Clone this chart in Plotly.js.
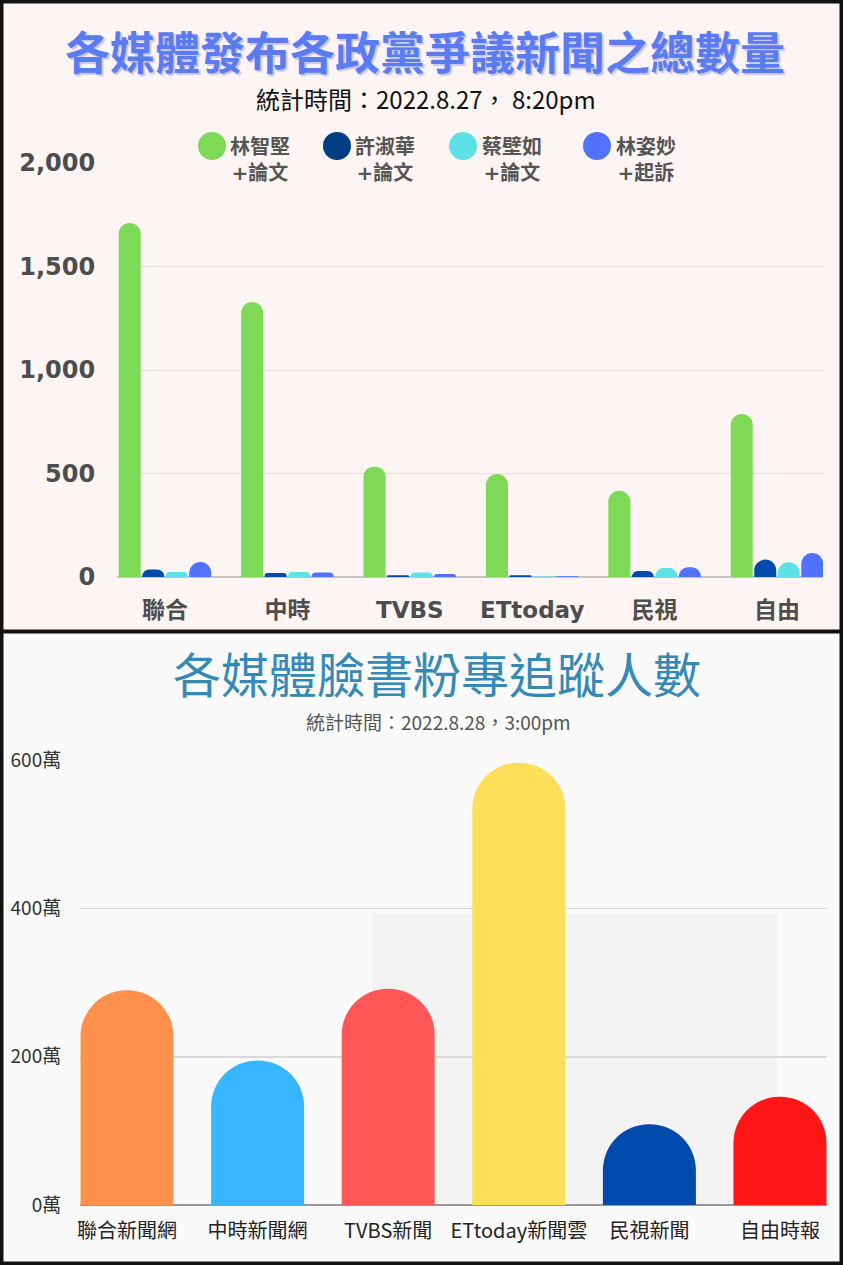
<!DOCTYPE html>
<html><head><meta charset="utf-8">
<script src="https://cdn.plot.ly/plotly-3.0.1.min.js"></script>
<style>html,body{margin:0;padding:0;background:#fff}#chart{width:843px;height:1265px}</style>
</head><body><div id="chart"></div>
<script>
// ---- Data: top chart (news counts) ----
const topCategories = ["聯合", "中時", "TVBS", "ETtoday", "民視", "自由"];
const topSeriesNames = ["林智堅<br>+論文", "許淑華<br>+論文", "蔡壁如<br>+論文", "林姿妙<br>+起訴"];
const linZhiJian = [1710, 1328, 533, 497, 417, 787];
const xuShuHua = [36, 19, 8, 8, 29, 84];
const caiBiRu = [24, 24, 22, 3, 43, 71];
const linZiMiao = [72, 22, 15, 4, 47, 116];
const topTickVals = [0, 500, 1000, 1500, 2000];

// ---- Data: bottom chart (FB followers, 萬) ----
const fbCategories = ["聯合新聞網", "中時新聞網", "TVBS新聞", "ETtoday新聞雲", "民視新聞", "自由時報"];
const fbFollowers = [290, 195, 292, 597, 109, 146];
const fbTickVals = [0, 200, 400, 600];
const fbTickText = fbTickVals.map(v => v + "萬");

// ---- Styles ----
const topColors = ["#7ED957", "#004AAD", "#5CE1E6", "#5271FF"];
const legendColors = ["#7ED957", "#003E84", "#5CE1E6", "#5271FF"];
const fbColors = ["#FF914D", "#38B6FF", "#FF5757", "#FFDE59", "#004AAD", "#FF1616"];

const W = 843, H = 1265;
const px = v => v / W;
const py = v => 1 - v / H;

const CJK = "Noto Sans CJK TC";
const BOLDLAT = "DejaVu Sans, Noto Sans CJK TC, sans-serif";

const topSeries = [linZhiJian, xuShuHua, caiBiRu, linZiMiao];
const traces = topSeries.map((vals, i) => ({
  type: "bar", x: topCategories, y: vals, name: topSeriesNames[i],
  xaxis: "x", yaxis: "y",
  marker: { color: topColors[i], cornerradius: "50%", line: { width: 0 } },
  hoverinfo: "skip", showlegend: false
}));
traces.push({
  type: "bar", x: fbCategories, y: fbFollowers, xaxis: "x2", yaxis: "y2",
  width: 0.712,
  marker: { color: fbColors, cornerradius: "50%", line: { width: 0 } },
  hoverinfo: "skip", showlegend: false
});

const shapes = [
  { type: "rect", xref: "paper", yref: "paper", x0: 0, x1: 1, y0: py(631.5), y1: 1, fillcolor: "#FDF5F3", line: { width: 0 }, layer: "below" },
  { type: "rect", xref: "paper", yref: "paper", x0: 0, x1: 1, y0: 0, y1: py(631.5), fillcolor: "#FAFAFA", line: { width: 0 }, layer: "below" },
  { type: "rect", xref: "paper", yref: "paper", x0: px(372), x1: px(777), y0: py(1205), y1: py(913), fillcolor: "#F3F3F3", line: { width: 0 }, layer: "below" },
  { type: "rect", xref: "paper", yref: "paper", x0: px(1.5), x1: px(841.5), y0: py(1263.5), y1: py(1.5), fillcolor: "rgba(0,0,0,0)", line: { color: "#111", width: 4 }, layer: "above" },
  { type: "line", xref: "paper", yref: "paper", x0: 0, x1: 1, y0: py(631.5), y1: py(631.5), line: { color: "#111", width: 4 }, layer: "above" }
];

const legendCircleX = [212, 337, 463, 597];
const legendTextX = [228, 353, 480, 614];
legendCircleX.forEach((cx, i) => {
  shapes.push({
    type: "circle", xref: "paper", yref: "paper",
    xsizemode: "pixel", ysizemode: "pixel",
    xanchor: px(cx), yanchor: py(146),
    x0: -14, x1: 14, y0: -14, y1: 14,
    fillcolor: legendColors[i], line: { width: 0 }, layer: "above"
  });
});

const annotations = [
  { text: "各媒體發布各政黨爭議新聞之總數量", xref: "paper", yref: "paper", x: px(425), y: py(51), xanchor: "center", yanchor: "middle", showarrow: false,
    font: { family: CJK, size: 45, color: "#5A7CF0", weight: "bold", shadow: "2px 2px 1px #C9C7F2" } },
  { text: "統計時間：2022.8.27， 8:20pm", xref: "paper", yref: "paper", x: px(426), y: py(99), xanchor: "center", yanchor: "middle", showarrow: false,
    font: { family: CJK, size: 24, color: "#111" } },
  { text: "各媒體臉書粉專追蹤人數", xref: "paper", yref: "paper", x: px(437), y: py(672), xanchor: "center", yanchor: "middle", showarrow: false,
    font: { family: CJK, size: 48, color: "#3589B5" } },
  { text: "統計時間：2022.8.28，3:00pm", xref: "paper", yref: "paper", x: px(438), y: py(721), xanchor: "center", yanchor: "middle", showarrow: false,
    font: { family: CJK, size: 19, color: "#555" } }
];
legendTextX.forEach((tx, i) => {
  annotations.push({
    text: topSeriesNames[i], xref: "paper", yref: "paper", x: px(tx), y: py(160.5),
    xanchor: "left", yanchor: "middle", align: "center", showarrow: false,
    font: { family: BOLDLAT, size: 20, color: "#555", weight: "bold" }
  });
});

const layout = {
  width: W, height: H, margin: { l: 0, r: 0, t: 0, b: 0 },
  paper_bgcolor: "#FFFFFF", plot_bgcolor: "rgba(0,0,0,0)",
  showlegend: false, barmode: "group", bargap: 0.232, bargroupgap: 0.064,
  xaxis: {
    domain: [px(117), px(823)], range: [-0.392, 5.376], anchor: "y",
    showgrid: false, showline: false, zeroline: false,
    ticks: "outside", ticklen: 12, tickcolor: "rgba(0,0,0,0)",
    tickfont: { family: BOLDLAT, size: 23, color: "#4D4D4D", weight: "bold" }, fixedrange: true
  },
  yaxis: {
    domain: [py(577), py(163)], range: [0, 2000], anchor: "x",
    tickvals: topTickVals, tickformat: ",d",
    showgrid: true, gridcolor: "#E3DEDD", gridwidth: 1,
    zeroline: true, zerolinecolor: "#C8C4C3", zerolinewidth: 2, showline: false,
    ticks: "outside", ticklen: 16, tickcolor: "rgba(0,0,0,0)",
    tickfont: { family: BOLDLAT, size: 24, color: "#4D4D4D", weight: "bold" }, fixedrange: true
  },
  xaxis2: {
    domain: [px(80), px(827)], range: [-0.36, 5.36], anchor: "y2",
    showgrid: false, showline: false, zeroline: false,
    ticks: "outside", ticklen: 8, tickcolor: "rgba(0,0,0,0)",
    tickfont: { family: CJK, size: 20, color: "#222" }, fixedrange: true
  },
  yaxis2: {
    domain: [py(1205), py(760.5)], range: [0, 600], anchor: "x2",
    tickmode: "array", tickvals: fbTickVals, ticktext: fbTickText,
    showgrid: true, gridcolor: "#D9D9D9", gridwidth: 1.5,
    zeroline: true, zerolinecolor: "#9A9A9A", zerolinewidth: 1.5, showline: false,
    ticks: "outside", ticklen: 14, tickcolor: "rgba(0,0,0,0)",
    tickfont: { family: CJK, size: 19, color: "#333" }, fixedrange: true
  },
  shapes: shapes,
  annotations: annotations
};

Plotly.newPlot("chart", traces, layout, { staticPlot: true, displayModeBar: false });
</script>
</body></html>
